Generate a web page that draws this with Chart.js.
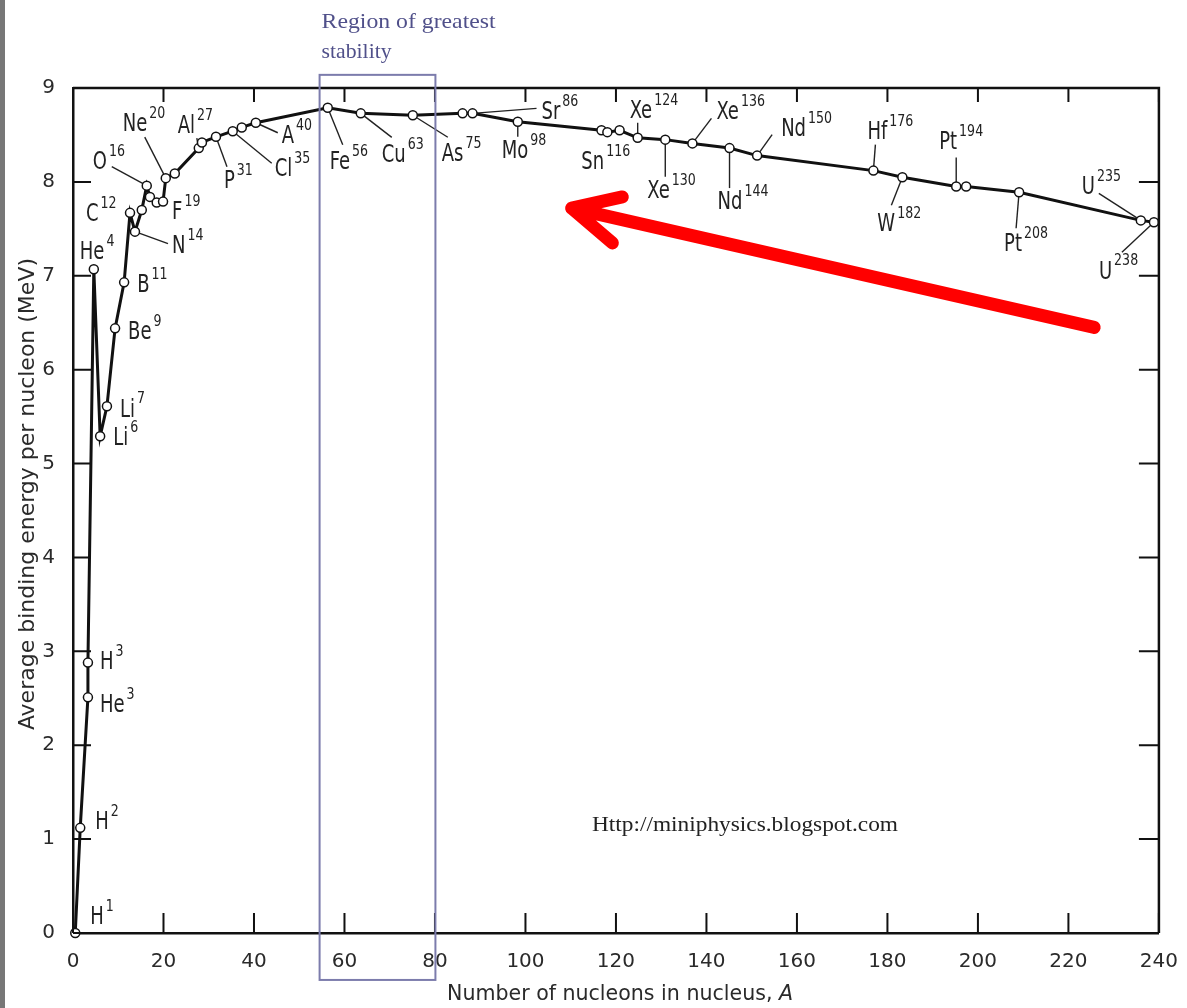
<!DOCTYPE html>
<html><head><meta charset="utf-8">
<script src="https://cdn.jsdelivr.net/npm/chart.js@4/dist/chart.umd.min.js"></script>
<style>
html,body{margin:0;padding:0;background:#fff;}
canvas{display:block;}
</style></head><body>
<canvas id="c" width="1187" height="1008"></canvas>
<script>
// ---- data ----
const massNumbers = [0.5, 1.6, 3.3, 3.3, 4.6, 6.0, 7.5, 9.3, 11.3, 12.6, 13.7, 15.2, 16.3, 17.0, 18.5, 19.9, 20.5, 22.5, 27.8, 28.5, 31.6, 35.3, 37.3, 40.4, 56.3, 63.6, 75.1, 86.1, 88.3, 98.3, 116.8, 118.1, 120.8, 124.8, 130.9, 136.9, 145.1, 151.2, 176.9, 183.3, 195.2, 197.4, 209.1, 236.0, 238.9];
const bindingEnergy = [0, 1.12, 2.51, 2.88, 7.07, 5.29, 5.61, 6.44, 6.93, 7.67, 7.47, 7.70, 7.96, 7.84, 7.78, 7.79, 8.04, 8.09, 8.36, 8.42, 8.48, 8.54, 8.58, 8.63, 8.79, 8.73, 8.71, 8.73, 8.73, 8.64, 8.55, 8.53, 8.55, 8.47, 8.45, 8.41, 8.36, 8.28, 8.12, 8.05, 7.95, 7.95, 7.89, 7.59, 7.57];
const xTickValues = [0, 20, 40, 60, 80, 100, 120, 140, 160, 180, 200, 220, 240];
const yTickValues = [0, 1, 2, 3, 4, 5, 6, 7, 8, 9];
const labelSymbols = ['H','H','H','He','He','Li','Li','Be','B','C','N','O','F','Ne','Al','P','Cl','A','Fe','Cu','As','Sr','Mo','Sn','Xe','Xe','Xe','Nd','Nd','Hf','W','Pt','Pt','U','U'];
const labelMass = ['1','2','3','3','4','6','7','9','11','12','14','16','19','20','27','31','35','40','56','63','75','86','98','116','124','130','136','144','150','176','182','194','208','235','238'];
const labelPointIndex = [0,1,3,2,4,5,6,7,8,9,10,12,15,16,18,20,21,23,24,25,26,28,29,31,33,34,35,36,37,38,39,40,42,43,44];
const xTitle = 'Number of nucleons in nucleus, ';
const xTitleItalic = 'A';
const yTitle = 'Average binding energy per nucleon (MeV)';
const regionText = ['Region of greatest', 'stability'];
const regionRange = [54.5, 80.1, -0.5, 9.14];
const watermark = 'Http://miniphysics.blogspot.com';
const arrowPoints = [[225.7, 6.45], [110.2, 7.72], [121.4, 7.84], [119.2, 7.35]];

// ---- label placement (pixel offsets from the point: text dx, dy, leader end dx, dy) ----
const labelLayout = [
 [15,-15,null,null],[15,-5,null,null],[12,0,null,null],[12,8,null,null],[-14,-16,null,null],
 [13,2,null,null],[13,4,null,null],[13,4,null,null],[13,3,null,null],[-44,2,null,null],
 [37,15,33,12],[-54,-23,-35,-19],[9,11,null,null],[-43,-53,-21,-41],[-21,-21,-2,-10],
 [8,45,11,30],[42,39,39,32],[26,14,22,10],[2,55,15,37],[21,42,31,24],[29,40,35,22],
 [69,-1,64,-5],[-16,30,0,15],[-26,31,null,null],[-8,-26,0,-15],[-18,52,0,37],[24,-31,19,-25],
 [-12,55,0,40],[24,-26,15,-21],[-6,-38,2,-26],[-25,48,-11,28],[-17,-44,0,-29],[-15,53,-3,36],
 [-59,-33,-42,-27],[-55,50,-32,30]
];

const points = massNumbers.map((a, i) => ({x: a, y: bindingEnergy[i]}));
const condensed = "'DejaVu Sans Condensed', 'DejaVu Sans', sans-serif";

function stretchText(ctx, text, x, y, font, sx, sy, align, baseline) {
  ctx.save();
  ctx.font = font;
  ctx.textAlign = align || 'left';
  ctx.textBaseline = baseline || 'middle';
  ctx.translate(x, y);
  ctx.scale(sx, sy);
  ctx.fillText(text, 0, 0);
  ctx.restore();
}
function fitScale(ctx, text, font, target) {
  ctx.save(); ctx.font = font; const w = ctx.measureText(text).width; ctx.restore();
  return target / w;
}

const decor = {
  id: 'decor',
  beforeDraw(chart) {
    const ctx = chart.ctx;
    ctx.save();
    ctx.fillStyle = '#fff';
    ctx.fillRect(0, 0, chart.width, chart.height);
    ctx.fillStyle = '#777';
    ctx.fillRect(0, 0, 5, chart.height);
    ctx.restore();
  },
  beforeDatasetsDraw(chart) {
    const ctx = chart.ctx;
    const xs = chart.scales.x, ys = chart.scales.y;
    ctx.save();
    ctx.strokeStyle = '#222';
    ctx.lineWidth = 1.4;
    labelSymbols.forEach((sym, i) => {
      const [tdx, tdy, ldx, ldy] = labelLayout[i];
      if (ldx === null) return;
      const p = points[labelPointIndex[i]];
      const px = xs.getPixelForValue(p.x), py = ys.getPixelForValue(p.y);
      ctx.beginPath(); ctx.moveTo(px, py); ctx.lineTo(px + ldx, py + ldy); ctx.stroke();
    });
    ctx.restore();
  },
  afterDatasetsDraw(chart) {
    const ctx = chart.ctx;
    const xs = chart.scales.x, ys = chart.scales.y;
    const a = chart.chartArea;
    ctx.save();
    // frame top / right
    ctx.strokeStyle = '#111';
    ctx.lineWidth = 2.5;
    ctx.beginPath();
    ctx.moveTo(a.left, a.top); ctx.lineTo(a.right, a.top); ctx.lineTo(a.right, a.bottom);
    ctx.stroke();
    // inward ticks
    ctx.lineWidth = 2;
    ctx.beginPath();
    xs.ticks.forEach(t => {
      const px = xs.getPixelForValue(t.value);
      ctx.moveTo(px, a.bottom); ctx.lineTo(px, a.bottom - 20);
      ctx.moveTo(px, a.top); ctx.lineTo(px, a.top + 14);
    });
    ys.ticks.forEach(t => {
      const py = ys.getPixelForValue(t.value);
      ctx.moveTo(a.left, py); ctx.lineTo(a.left + 18, py);
      ctx.moveTo(a.right, py); ctx.lineTo(a.right - 20, py);
    });
    ctx.stroke();

    // isotope labels
    ctx.fillStyle = '#222';
    labelSymbols.forEach((sym, i) => {
      const p = points[labelPointIndex[i]];
      const px = xs.getPixelForValue(p.x), py = ys.getPixelForValue(p.y);
      const [tdx, tdy] = labelLayout[i];
      const font = '20px ' + condensed;
      ctx.font = font;
      const w = ctx.measureText(sym).width;
      stretchText(ctx, sym, px + tdx, py + tdy, font, 1, 1.2);
      stretchText(ctx, labelMass[i], px + tdx + w + 2, py + tdy - 11, '14px ' + condensed, 1, 1.15);
    });

    // region of greatest stability
    const rx0 = xs.getPixelForValue(regionRange[0]), rx1 = xs.getPixelForValue(regionRange[1]);
    const ry0 = ys.getPixelForValue(regionRange[2]), ry1 = ys.getPixelForValue(regionRange[3]);
    ctx.strokeStyle = '#7c7cac';
    ctx.lineWidth = 2;
    ctx.strokeRect(rx0, ry1, rx1 - rx0, ry0 - ry1);
    ctx.fillStyle = '#50508a';
    const rf = "19px 'Liberation Serif', serif";
    stretchText(ctx, regionText[0], rx0 + 2, 23, rf, fitScale(ctx, regionText[0], rf, 174), 1.1);
    stretchText(ctx, regionText[1], rx0 + 2, 53, rf, fitScale(ctx, regionText[1], rf, 70), 1.1);

    // watermark
    ctx.fillStyle = '#222';
    const wf = "18px 'Liberation Serif', serif";
    stretchText(ctx, watermark, 592, 826, wf, fitScale(ctx, watermark, wf, 306), 1.15);

    // red arrow
    const ap = arrowPoints.map(q => [xs.getPixelForValue(q[0]), ys.getPixelForValue(q[1])]);
    ctx.strokeStyle = '#ff0000';
    ctx.lineWidth = 13;
    ctx.lineCap = 'round';
    ctx.lineJoin = 'round';
    ctx.beginPath();
    ctx.moveTo(ap[0][0], ap[0][1]); ctx.lineTo(ap[1][0], ap[1][1]);
    ctx.moveTo(ap[2][0], ap[2][1]); ctx.lineTo(ap[1][0], ap[1][1]); ctx.lineTo(ap[3][0], ap[3][1]);
    ctx.stroke();

    // axis titles
    ctx.fillStyle = '#2a2a2a';
    const tf = '18px ' + condensed;
    ctx.save();
    ctx.translate(29, 494);
    ctx.rotate(-Math.PI / 2);
    stretchText(ctx, yTitle, 0, 0, tf, fitScale(ctx, yTitle, tf, 472), 1.15, 'center');
    ctx.restore();
    const itf = 'italic 18px ' + condensed;
    ctx.font = tf; const w1 = ctx.measureText(xTitle).width;
    ctx.font = itf; const w2 = ctx.measureText(xTitleItalic).width;
    const sx = 346 / (w1 + w2);
    stretchText(ctx, xTitle, 447, 995, tf, sx, 1.15);
    stretchText(ctx, xTitleItalic, 447 + w1 * sx, 995, itf, sx, 1.15);
    ctx.restore();
  }
};

new Chart(document.getElementById('c'), {
  type: 'line',
  data: {
    datasets: [{
      data: points,
      borderColor: '#111',
      borderWidth: 3,
      pointRadius: 4.5,
      pointBorderWidth: 1.5,
      pointBackgroundColor: '#fff',
      pointBorderColor: '#111',
      tension: 0,
      clip: false
    }]
  },
  options: {
    responsive: false,
    animation: false,
    devicePixelRatio: 1,
    layout: { padding: { left: 0, top: 88, right: 27, bottom: 0 } },
    plugins: { legend: { display: false }, tooltip: { enabled: false } },
    scales: {
      x: {
        type: 'linear', min: 0, max: 240,
        afterBuildTicks: s => { s.ticks = xTickValues.map(v => ({value: v})); },
        afterFit: s => { s.height = 75; },
        grid: { display: false },
        border: { display: true, color: '#111', width: 2.5 },
        ticks: { color: '#2a2a2a', font: { family: "'DejaVu Sans', sans-serif", size: 20 }, padding: 9, maxRotation: 0, autoSkip: false }
      },
      y: {
        type: 'linear', min: 0, max: 9,
        afterBuildTicks: s => { s.ticks = yTickValues.map(v => ({value: v})); },
        afterFit: s => { s.width = 73; },
        grid: { display: false },
        border: { display: true, color: '#111', width: 2.5 },
        ticks: { color: '#2a2a2a', font: { family: "'DejaVu Sans', sans-serif", size: 20 }, padding: 10 }
      }
    }
  },
  plugins: [decor]
});
</script>
</body></html>
